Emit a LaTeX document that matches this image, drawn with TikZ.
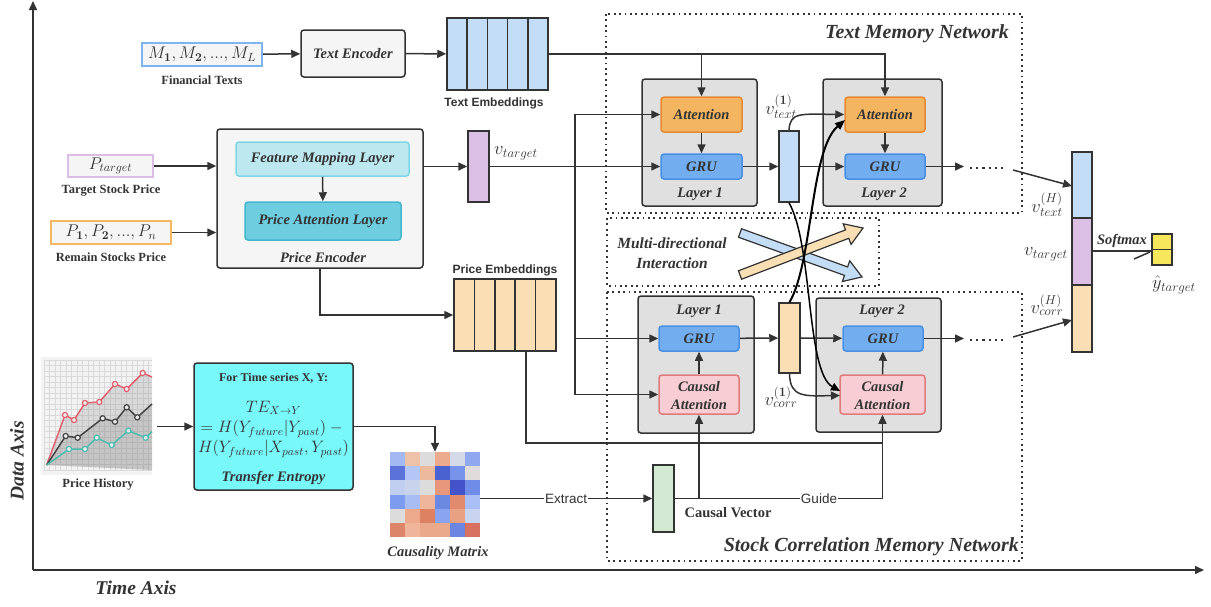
\RequirePackage{fix-cm}
\documentclass[tikz,border=0pt]{standalone}
\usepackage[no-math]{fontspec}
\setmainfont{Liberation Serif}
\setsansfont{Liberation Sans}
\usepackage{amsmath}
\usetikzlibrary{arrows.meta,fit,calc}
\definecolor{dk}{HTML}{333333}
\definecolor{lgray}{HTML}{F5F5F5}
\definecolor{laygray}{HTML}{E0E0E0}
\definecolor{attfill}{HTML}{F3B55F}
\definecolor{attdraw}{HTML}{E68A35}
\definecolor{grufill}{HTML}{71ADEF}
\definecolor{grudraw}{HTML}{4A90E2}
\definecolor{cafill}{HTML}{F8CDD3}
\definecolor{cadraw}{HTML}{E07B7B}
\definecolor{fmlfill}{HTML}{BDE8F0}
\definecolor{fmldraw}{HTML}{7FD6E6}
\definecolor{palfill}{HTML}{6FCDE0}
\definecolor{paldraw}{HTML}{45B6CC}
\definecolor{tblue}{HTML}{C4DDF6}
\definecolor{porange}{HTML}{FADFB4}
\definecolor{purp}{HTML}{DCBFE4}
\definecolor{cgreen}{HTML}{D3E9D1}
\definecolor{yel}{HTML}{F7E75B}
\definecolor{tecyan}{HTML}{78F8F8}
\definecolor{finblue}{HTML}{7EB5F0}
\definecolor{ptgtdraw}{HTML}{DCBDE8}
\definecolor{palldraw}{HTML}{F4B860}
\definecolor{phred}{HTML}{E06070}
\definecolor{phteal}{HTML}{4DBDB0}
\definecolor{phblack}{HTML}{444444}
\definecolor{gridc}{HTML}{DADADA}
\definecolor{phbg}{HTML}{F3F3F3}
\tikzset{
  cline/.style={draw=dk, line width=1.5pt},
  arr/.style={draw=dk, line width=1.5pt, -{Triangle[length=9pt,width=8pt]}},
  sbox/.style={rectangle, draw=dk, line width=1.5pt, inner sep=0pt},
  rbox/.style={sbox, rounded corners=3pt},
  bi/.style={font=\fontsize{14.5}{18}\selectfont\bfseries\itshape, inner sep=0pt},
  bibig/.style={font=\fontsize{20}{22}\selectfont\bfseries\itshape, inner sep=0pt},
  lbl/.style={font=\fontsize{12.5}{14}\selectfont\bfseries, inner sep=0pt},
  sanslbl/.style={font=\fontsize{12}{14}\selectfont\sffamily\bfseries, inner sep=0pt},
  mth/.style={font=\fontsize{18.5}{21}\selectfont, inner sep=0pt},
  mthbox/.style={font=\fontsize{17}{20}\selectfont, inner sep=0pt},
  mthte/.style={font=\fontsize{16.5}{19}\selectfont, inner sep=0pt},
  dotbox/.style={draw=dk, line width=1.8pt, dash pattern=on 1.8pt off 3.6pt},
  attbox/.style={rbox, draw=attdraw, fill=attfill},
  grubox/.style={rbox, draw=grudraw, fill=grufill},
  cabox/.style={rbox, draw=cadraw, fill=cafill},
  laybox/.style={rbox, fill=laygray},
  blockarr/.style={draw=dk, line width=1.2pt},
  dots/.style={draw=dk, line width=2.2pt, dash pattern=on 2.2pt off 4pt},
}
\begin{document}
\begin{tikzpicture}[x=1pt,y=-1pt, every node/.append style={text=dk}]
\useasboundingbox (0,0) rectangle (1211,606);

% ---------------- axes
\coordinate (O) at (33,570);
\coordinate (Ytop) at (33,1);
\coordinate (Xend) at (1204,570);
\draw[arr] (O) -- (Ytop);
\draw[arr] (O) -- (Xend);
\node[rotate=90, font=\fontsize{19.5}{22}\selectfont\bfseries\itshape] (dataaxis) at (17,461) {Data Axis};
\node[font=\fontsize{19.5}{22}\selectfont\bfseries\itshape] (timeaxis) at (136,588) {Time Axis};

% ---------------- dotted network boxes
\draw[dotbox] (606,14) rectangle (1022,213);
\draw[dotbox] (607,218) rectangle (879,286);
\draw[dotbox] (607,292) rectangle (1022,561);
\node[bibig, anchor=east] (tmnlbl) at (1009,34) {Text Memory Network};
\node[bibig, anchor=east] (scmnlbl) at (1019,547) {Stock Correlation Memory Network};
\node[font=\fontsize{15.5}{20}\selectfont\bfseries\itshape, align=center] (mdilbl) at (672,253) {Multi-directional\\Interaction};

% ---------------- text input
\node[sbox, draw=finblue, fill=lgray, fit={(142,43)(262,66)}] (fin) {};
\node[mthbox] (fintxt) at (fin) {$M_{\mathbf{1}}, M_{\mathbf{2}}, ..., M_L$};
\node[lbl] (finlbl) at (202,80) {Financial Texts};
\node[rbox, fill=lgray, fit={(301,30)(405,77)}] (tenc) {};
\node[bi] (tenctxt) at (tenc) {Text Encoder};
\node[sbox, fill=tblue, fit={(447,18)(548,90)}] (temb) {};
\foreach \i in {1,...,4} \draw[cline] ({447+20.2*\i},18) -- ({447+20.2*\i},90);
\node[sanslbl] (temblbl) at (494,103) {Text Embeddings};
\draw[arr] (fin) -- (tenc);
\draw[arr] (tenc) -- (temb);

% ---------------- price encoder
\node[rbox, fill=lgray, fit={(217,129)(423,268)}] (penc) {};
\node[rbox, draw=fmldraw, fill=fmlfill, fit={(236,142)(409,176)}] (fml) {};
\node[bi] (fmltxt) at (fml) {Feature Mapping Layer};
\node[rbox, draw=paldraw, fill=palfill, fit={(245,202)(401,240)}] (pal) {};
\node[bi] (paltxt) at (pal) {Price Attention Layer};
\node[bi] (penclbl) at (323,258) {Price Encoder};
\draw[arr] (fml) -- (pal);
\node[sbox, draw=ptgtdraw, fill=lgray, fit={(68,155)(153,177)}] (ptgt) {};
\node[mthbox] (ptgttxt) at (ptgt) {$P_{target}$};
\node[lbl] (ptgtlbl) at (111,191) {Target Stock Price};
\node[sbox, draw=palldraw, fill=lgray, fit={(51,221)(171,244)}] (pall) {};
\node[mthbox] (palltxt) at (pall) {$P_{\mathbf{1}}, P_{\mathbf{2}}, ..., P_n$};
\node[lbl] (palllbl) at (111,257) {Remain Stocks Price};
\draw[arr] (ptgt.east) -- (ptgt.east -| penc.west);
\draw[arr] (pall.east) -- (pall.east -| penc.west);

% ---------------- v_target
\node[sbox, fill=purp, fit={(468,131)(489,202)}] (vtgt) {};
\node[mth] (vtgtlbl) at (516,153) {$v_{target}$};
\draw[arr] (penc.east |- vtgt.west) -- (vtgt.west);

% ---------------- price embeddings
\node[sbox, fill=porange, fit={(454,279)(556,351)}] (pemb) {};
\foreach \i in {1,...,4} \draw[cline] ({454+20.4*\i},279) -- ({454+20.4*\i},351);
\node[sanslbl] (pemblbl) at (505,270) {Price Embeddings};
\draw[arr] (penc.south) |- (pemb.west);

% ---------------- text memory layers
\node[laybox, fit={(642,79)(757,206)}] (L1t) {};
\node[attbox, fit={(661,97)(742,132)}] (A1) {};
\node[bi] (A1txt) at (A1) {Attention};
\node[grubox, fit={(661,154)(742,179)}] (G1) {};
\node[bi] (G1txt) at (G1) {GRU};
\node[bi] (L1tlbl) at (700,194) {Layer 1};
\node[laybox, fit={(823,79)(942,206)}] (L2t) {};
\node[attbox, fit={(845,97)(925,132)}] (A2) {};
\node[bi] (A2txt) at (A2) {Attention};
\node[grubox, fit={(845,154)(925,179)}] (G2) {};
\node[bi] (G2txt) at (G2) {GRU};
\node[bi] (L2tlbl) at (884,194) {Layer 2};
\node[sbox, fill=tblue, fit={(779,131)(799,202)}] (vt1) {};
\node[mth] (vt1lbl) at (781,107) {$v_{text}^{(\mathbf{1})}$};
\draw[arr] (A1) -- (G1);
\draw[arr] (A2) -- (G2);
\draw[arr] (G1) -- (vt1);
\draw[arr] (vt1) -- (G2);
\draw[arr] (temb.east) -| (A2.north);
\draw[arr] (A1.north |- temb.east) -- (A1.north);

% ---------------- correlation memory layers
\node[laybox, fit={(638,296)(754,433)}] (L1c) {};
\node[grubox, fit={(659,326)(739,351)}] (Gc1) {};
\node[bi] (Gc1txt) at (Gc1) {GRU};
\node[cabox, fit={(659,375)(739,414)}] (CA1) {};
\node[bi, anchor=base] (CA1a) at (699,391) {Causal};
\node[bi, anchor=base] (CA1b) at (699,409) {Attention};
\node[bi] (L1clbl) at (699,311) {Layer 1};
\node[laybox, fit={(816,298)(941,432)}] (L2c) {};
\node[grubox, fit={(843,326)(923,351)}] (Gc2) {};
\node[bi] (Gc2txt) at (Gc2) {GRU};
\node[cabox, fit={(840,375)(925,414)}] (CA2) {};
\node[bi, anchor=base] (CA2a) at (882.5,391) {Causal};
\node[bi, anchor=base] (CA2b) at (882.5,409) {Attention};
\node[bi] (L2clbl) at (882,311) {Layer 2};
\node[sbox, fill=porange, fit={(779,303)(800,373)}] (vc1) {};
\node[mth] (vc1lbl) at (781,397) {$v_{corr}^{(\mathbf{1})}$};
\draw[arr] (CA1) -- (Gc1);
\draw[arr] (CA2) -- (Gc2);
\draw[arr] (Gc1) -- (vc1);
\draw[arr] (vc1) -- (Gc2);

% ---------------- v_target distribution
\coordinate (J) at (575,166.5);
\draw[arr] (vtgt.east) -- (G1.west);
\draw[cline] (J |- A1.west) -- (J |- CA1.west);
\draw[arr] (J) |- (A1.west);
\draw[arr] (J) |- (Gc1.west);
\draw[arr] (J) |- (CA1.west);

% ---------------- multi-directional block arrows
\begin{scope}[shift={(740,233)}, rotate=-19.8]
\filldraw[blockarr, fill=tblue] (0,4.5) -- (112.7,4.5) -- (112.7,11) -- (129.7,0) -- (112.7,-11) -- (112.7,-4.5) -- (0,-4.5) -- cycle;
\end{scope}
\begin{scope}[shift={(740,275)}, rotate=20.9]
\filldraw[blockarr, fill=porange] (0,4.5) -- (114.7,4.5) -- (114.7,11) -- (131.7,0) -- (114.7,-11) -- (114.7,-4.5) -- (0,-4.5) -- cycle;
\end{scope}

% ---------------- cross-layer curves
\coordinate (a2in) at (845,120);
\coordinate (ca2in) at (840,391);
\coordinate (ca2in2) at (840,395.5);
\draw[arr] (vt1.north) .. controls (790,112) and (800,114) .. (A2.west);
\draw[draw=black, line width=2pt, -{Triangle[length=10pt,width=8pt]}] (vc1.north) .. controls (813,262) and (810,150) .. (a2in);
\draw[draw=black, line width=1.5pt, -{Triangle[length=9pt,width=8pt]}] (vt1.south) .. controls (813,245) and (806,372) .. (ca2in);
\draw[arr] (vc1.south) .. controls (790,398) and (805,396) .. (ca2in2);

% ---------------- outputs to concat
\draw[arr] (G2.east) -- (964,166.5);
\draw[dots] (970,168) -- (1007,168);
\draw[arr] (Gc2.east) -- (964,338.5);
\draw[dots] (970,340) -- (1007,340);
\node[sbox, fill=tblue, fit={(1072,152)(1092,218)}] (cb) {};
\node[sbox, fill=purp, fit={(1072,218)(1092,285)}] (cp) {};
\node[sbox, fill=porange, fit={(1072,285)(1092,352)}] (co) {};
\coordinate (dt) at (1013,170);
\coordinate (cbin) at (1072,186);
\coordinate (dc) at (1013,337);
\coordinate (coin) at (1072,320);
\draw[arr] (dt) -- (cbin);
\draw[arr] (dc) -- (coin);
\node[mth] (vtextH) at (1047,205) {$v_{text}^{(H)}$};
\node[mth] (vtgt2) at (1046,254) {$v_{target}$};
\node[mth] (vcorrH) at (1047,305) {$v_{corr}^{(H)}$};
\node[sbox, fill=yel, fit={(1152,234)(1172,265)}] (yb) {};
\draw[cline] (yb.west) -- (yb.east);
\node[mth] (yhat) at (1174,285) {$\hat{y}_{target}$};
\coordinate (sm) at (1092,251);
\coordinate (smend) at (1152,251);
\coordinate (sd1) at (1134,259);
\coordinate (sd2) at (1150,252);
\draw[cline] (sm) -- (smend);
\draw[cline] (sd1) -- (sd2);
\node[font=\fontsize{14.5}{16}\selectfont\bfseries\itshape, inner sep=0pt] (smlbl) at (1122,241) {Softmax};

% ---------------- price history
\node[inner sep=0pt, fit={(41,357)(152,475)}] (ph) {};
\fill[phbg] (41,357) rectangle (152,475);
\foreach \x in {44,49.5,...,152} \draw[gridc, line width=0.5pt] (\x,360) -- (\x,470);
\foreach \y in {360,365.5,...,470} \draw[gridc, line width=0.5pt] (44,\y) -- (152,\y);
\fill[gray, opacity=0.22] (46.7,465) -- (65,415) -- (74,420) -- (85,403) -- (99.3,402) -- (115,384) -- (126.7,389) -- (142.7,373) -- (152,377) -- (152,470) -- cycle;
\fill[gray, opacity=0.22] (46.7,465) -- (65.7,436) -- (77.7,437.7) -- (102.7,418.3) -- (115,421.7) -- (126.7,407.3) -- (137.3,417.3) -- (152,404) -- (152,470) -- cycle;
\draw[phred, line width=1.5pt] (46.7,465) -- (65,415) -- (74,420) -- (85,403) -- (99.3,402) -- (115,384) -- (126.7,389) -- (142.7,373) -- (152,377);
\draw[phblack, line width=1.5pt] (46.7,465) -- (65.7,436) -- (77.7,437.7) -- (102.7,418.3) -- (115,421.7) -- (126.7,407.3) -- (137.3,417.3) -- (152,404);
\draw[phteal, line width=1.5pt] (46.7,465) -- (69,449) -- (85,449) -- (96.7,437.7) -- (111.7,445) -- (128.3,430.7) -- (145.7,437.7) -- (152,431.7);
\foreach \p in {(65,415),(74,420),(85,403),(99.3,402),(115,384),(126.7,389),(142.7,373)} \filldraw[draw=phred, fill=white!85!gray, line width=1.2pt] \p circle (2.6);
\foreach \p in {(65.7,436),(77.7,437.7),(102.7,418.3),(115,421.7),(126.7,407.3),(137.3,417.3)} \filldraw[draw=phblack, fill=white!85!gray, line width=1.2pt] \p circle (2.6);
\foreach \p in {(69,449),(85,449),(96.7,437.7),(111.7,445),(128.3,430.7),(145.7,437.7)} \filldraw[draw=phteal, fill=white!85!gray, line width=1.2pt] \p circle (2.6);
\node[lbl] (phlbl) at (98,485) {Price History};

% ---------------- transfer entropy
\node[rbox, fill=tecyan, fit={(194,363)(353,490)}] (TE) {};
\node[font=\fontsize{12}{14}\selectfont\bfseries, inner sep=0pt] (te1) at (273.5,378) {For Time series X, Y:};
\node[mthte] (te2) at (273.5,408) {$TE_{X\rightarrow Y}$};
\node[mthte] (te3) at (273.5,429) {$= H(Y_{future}|Y_{past}) -{}$};
\node[mthte] (te4) at (273.5,449) {$H(Y_{future}|X_{past}, Y_{past})$};
\node[bi] (te5) at (273.5,478) {Transfer Entropy};
\coordinate (phout) at (157,426.5);
\draw[arr] (phout) -- (TE.west);

% ---------------- causality matrix
\node[inner sep=0pt, fit={(390,452)(480,537)}] (mat) {};
\foreach \c [count=\k from 0] in {A4B9F2,EEC1A9,DCDCDC,ECAB8C,D4DAE8,8FA8F0,
  5A72D9,B3C6F5,EDB99D,4A62D0,7894EA,E0DCDB,
  C0CEF0,C9D3EB,DCDCDC,E8977A,4353C9,6F8CE8,
  7D9CF0,A9BDF5,EEB59B,6C89E1,E08B6D,A9BFF5,
  DCDCDC,ECA98B,DD8162,8AA4F2,E8A182,C9D5F0,
  DC8569,F0B69C,EBA98B,EBA98B,6C85E0,D97161} {
  \pgfmathtruncatemacro{\r}{floor(\k/6)}
  \pgfmathtruncatemacro{\q}{\k-6*\r}
  \definecolor{cellc}{HTML}{\c}
  \fill[cellc] ({390+15*\q},{452+14.17*\r}) rectangle ++(15,14.17);
}
\node[bi] (matlbl) at (438,553) {Causality Matrix};
\draw[arr] (TE.east) -| (mat.north);

% ---------------- causal vector
\node[sbox, fill=cgreen, fit={(653,465)(674,532)}] (cvec) {};
\node[font=\fontsize{14.5}{16}\selectfont\bfseries, inner sep=0pt] (cveclbl) at (728,513) {Causal Vector};
\draw[arr] (mat.east |- cvec.west) -- node[pos=0.5, fill=white, inner sep=1pt, font=\fontsize{13.5}{15}\selectfont\sffamily] {Extract} (cvec.west);
\draw[arr] (cvec.east) -- (CA2.south |- cvec.east) -- (CA2.south);
\draw[arr] (CA1.south |- cvec.east) -- (CA1.south);
\node[fill=white, inner sep=1pt, font=\fontsize{13.5}{15}\selectfont\sffamily] (guide) at (819,498.5) {Guide};
\coordinate (pe) at (526,351);
\coordinate (pj) at (882.5,443);
\draw[cline] (pe) |- (pj);
\end{tikzpicture}
\end{document}
